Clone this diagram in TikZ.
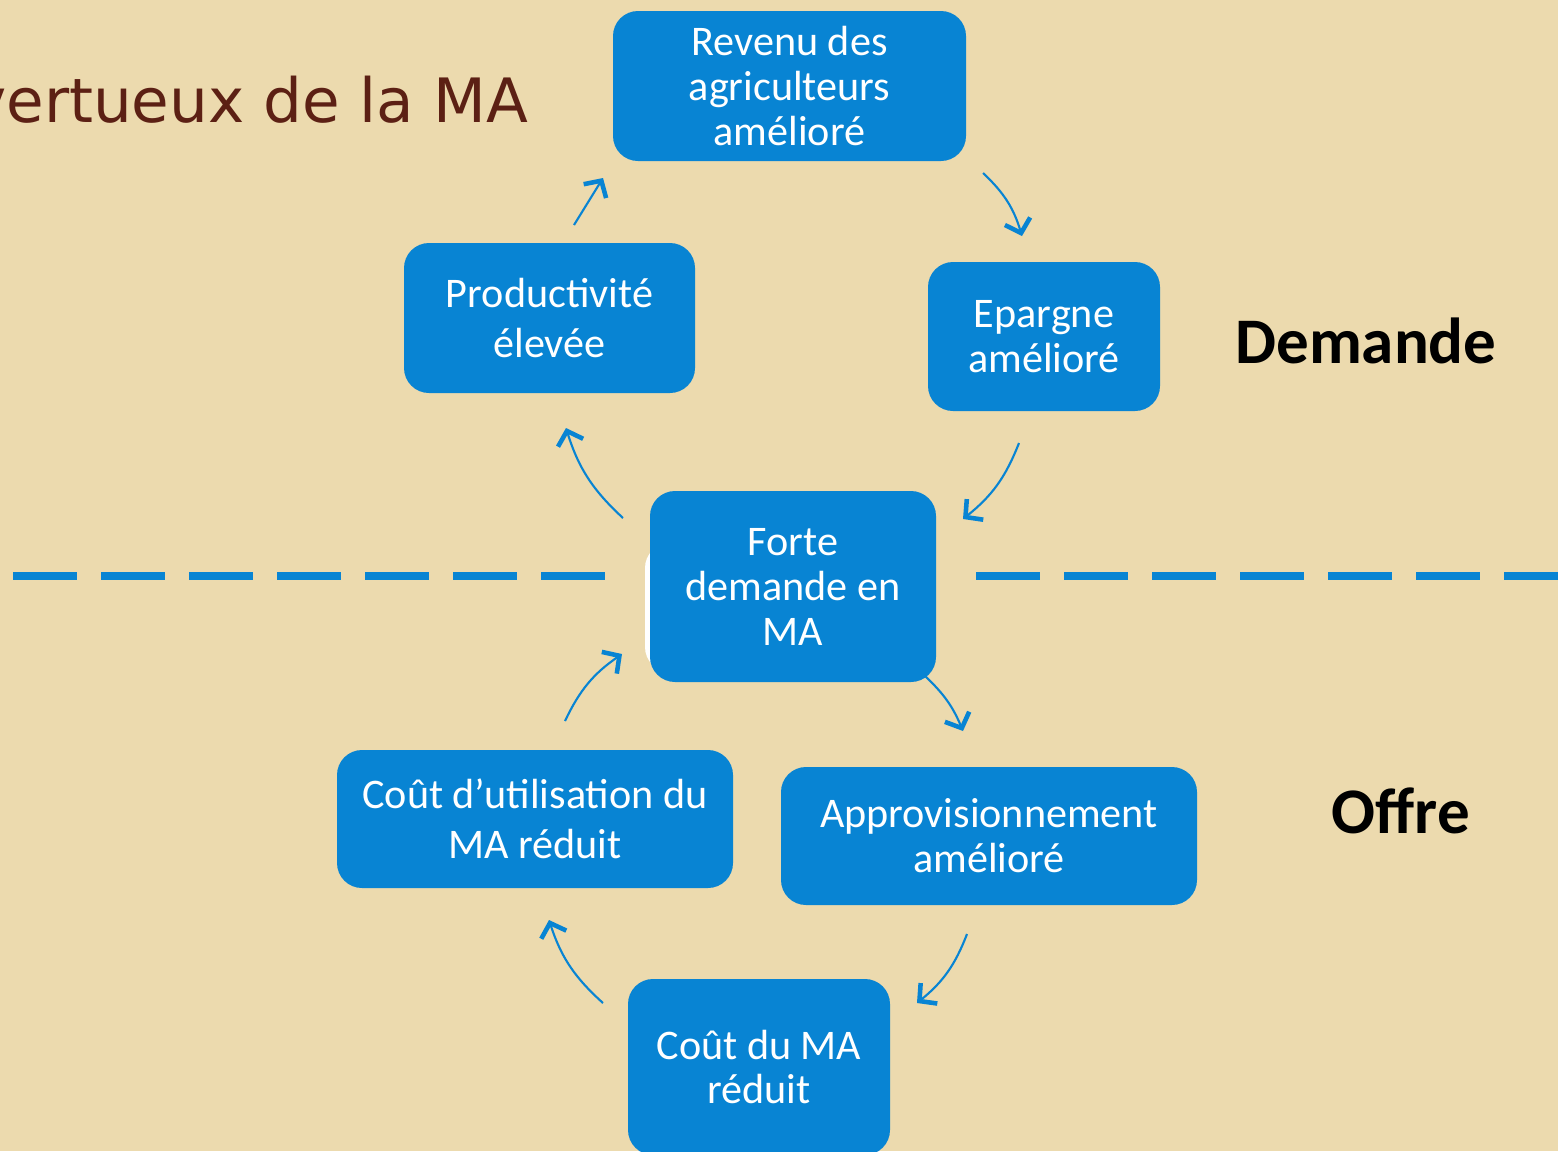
\documentclass[tikz,border=0pt]{standalone}
\usepackage{fontspec}
\setmainfont{Carlito}
\newfontfamily\titrefont{DejaVu Sans}
\usetikzlibrary{arrows.meta}
\definecolor{fond}{RGB}{236,218,174}
\definecolor{bleu}{RGB}{8,132,211}
\definecolor{brun}{RGB}{92,32,20}
\tikzset{boite/.style={fill=bleu, rounded corners=\coinrayon, text=white, align=center, inner sep=0pt, font=\fontsize{12}{12.8}\selectfont},
    lien/.style={bleu, line width=.6pt, -{Straight Barb[length=3.5pt, width=7.5pt, line width=1.3pt]}},
    tirets/.style={bleu, line width=2.3pt, dash pattern=on .64cm off .24cm},
    cote/.style={font=\fontsize{18.5}{20}\selectfont\bfseries}}
\newcommand{\coinrayon}{.25cm}

\begin{document}
\begin{tikzpicture}
        \fill[fond] (0,0) rectangle (15.58,-11.51);
        \useasboundingbox (0,0) rectangle (15.58,-11.51);
        \clip (0,0) rectangle (15.58,-11.51);
        \node[anchor=base east, inner sep=0pt, text=brun, font=\titrefont\fontsize{17.4}{20}\selectfont] (titre) at (5.29,-1.22) {vertueux de la MA};
        \draw[tirets] (.13,-5.76) -- (6.05,-5.76);
        \draw[tirets] (9.76,-5.76) -- (15.7,-5.76);
        \fill[white, rounded corners=\coinrayon] (6.45,-5.43) rectangle (9,-6.72);
        \node[boite, minimum width=3.53cm, minimum height=1.50cm] (revenu) at (7.895,-.86) {Revenu des\\agriculteurs\\amélioré};
        \node[boite, minimum width=2.91cm, minimum height=1.50cm, font=\fontsize{12}{14.2}\selectfont] (prod) at (5.495,-3.18) {Productivité\\élevée};
        \node[boite, minimum width=2.32cm, minimum height=1.49cm] (epargne) at (10.44,-3.365) {Epargne\\amélioré};
        \node[boite, minimum width=2.86cm, minimum height=1.91cm] (forte) at (7.93,-5.865) {Forte\\demande en\\MA};
        \node[boite, minimum width=3.96cm, minimum height=1.38cm, font=\fontsize{12}{14.2}\selectfont] (util) at (5.35,-8.19) {Coût d’utilisation du\\MA réduit};
        \node[boite, minimum width=4.16cm, minimum height=1.38cm] (appro) at (9.89,-8.36) {Approvisionnement\\amélioré};
        \node[boite, minimum width=2.62cm, minimum height=1.76cm] (cout) at (7.59,-10.67) {Coût du MA\\réduit};
        \node[cote] (demande) at (13.66,-3.41) {Demande};
        \node[cote] (offre) at (14.01,-8.11) {Offre};
        % extremites des fleches
        \coordinate (p1) at (5.74,-2.25);  \coordinate (r1) at (6.03,-1.78);
        \coordinate (r2) at (9.83,-1.73);  \coordinate (e1) at (10.22,-2.36);
        \coordinate (e2) at (10.19,-4.43); \coordinate (f1) at (9.63,-5.19);
        \coordinate (f2) at (6.23,-5.18);  \coordinate (p2) at (5.66,-4.28);
        \coordinate (f3) at (9.25,-6.76);  \coordinate (a1) at (9.63,-7.31);
        \coordinate (a2) at (9.67,-9.34);  \coordinate (c1) at (9.17,-10.03);
        \coordinate (c2) at (6.03,-10.03); \coordinate (u1) at (5.49,-9.20);
        \coordinate (u2) at (5.65,-7.21);  \coordinate (f4) at (6.22,-6.54);
        \draw[lien] (p1) -- (r1);
        \draw[lien] (r2) to[bend left=15] (e1);
        \draw[lien] (e2) to[bend left=15] (f1);
        \draw[lien] (f2) to[bend left=15] (p2);
        \draw[lien] (f3) to[bend left=12] (a1);
        \draw[lien] (a2) to[bend left=15] (c1);
        \draw[lien] (c2) to[bend left=15] (u1);
        \draw[lien] (u2) to[bend left=15] (f4);
\end{tikzpicture}
\end{document}
